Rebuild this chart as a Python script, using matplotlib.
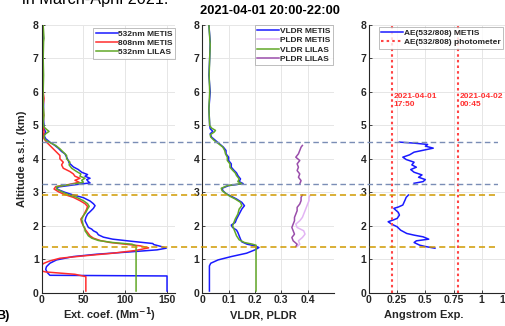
import numpy as np
import matplotlib
matplotlib.use("Agg")
import matplotlib.pyplot as plt

nan = np.nan

# ---- panel 1: extinction coefficient (Mm-1) vs altitude (km)
alt_ext_532 = [0.05, 0.5, 0.52, 0.6, 0.7, 0.78, 0.88, 0.98, 1.08, 1.15, 1.22, 1.28, 1.33, 1.38, 1.44,
               1.47, 1.53, 1.6, 1.66, 1.73, 1.8, 1.85, 1.9, 1.95, 2.05, 2.15, 2.25, 2.35, 2.42, 2.52,
               2.6, 2.66, 2.74, 2.84, 2.92, 3.0, 3.06, 3.11, 3.16, 3.22, 3.28, 3.32, 3.38, 3.42, 3.48,
               3.53, 3.6, 3.68, 3.76, 3.88, 3.95, 4.05, 4.15, 4.22, 4.32, 4.4, 4.5, 4.6, 4.7, 4.8,
               4.9, 5.0, 5.3, 5.6, 6.0, 6.4, 6.8, 7.2, 7.6, 8.0]
ext_532_metis = [150, 150, 10, 7, 5, 6, 10, 18, 38, 66, 106, 138, 149, 143, 134,
                 133, 110, 85, 74, 68, 66, 62, 60, 56, 54, 52, 53, 55, 58, 62,
                 64, 62, 58, 50, 38, 28, 22, 18, 20, 38, 58, 56, 54, 58, 52,
                 55, 48, 44, 38, 33, 32, 30, 28, 24, 20, 16, 10, 5, 3, 5,
                 3, 3, 2, 2.5, 2, 1.5, 2, 1.5, 2, 1.5]

alt_ext_808 = [0.05, 0.48, 0.55, 0.62, 0.65, 0.83, 0.88, 0.95, 1.03, 1.1, 1.18, 1.26, 1.34, 1.4, 1.45,
               1.5, 1.56, 1.63, 1.7, 1.8, 1.9, 2.0, 2.1, 2.2, 2.3, 2.4, 2.5, 2.58, 2.66, 2.75,
               2.85, 2.93, 3.02, 3.1, 3.17, 3.23, 3.3, 3.36, 3.42, 3.48, 3.55, 3.62, 3.72, 3.82, 3.9,
               4.0, 4.1, 4.2, 4.3, 4.4, 4.5, 4.6, 4.7, 4.8, 5.0, 5.3, 5.6, 5.8, 6.0]
ext_808_metis = [53, 53, 40, 5, 0, 0, 3, 10, 22, 50, 85, 112, 128, 118, 100,
                 82, 70, 62, 58, 55, 52, 50, 48, 47, 50, 52, 54, 55, 52, 46,
                 38, 28, 20, 15, 17, 32, 45, 40, 46, 40, 38, 34, 26, 24, 26,
                 22, 22, 18, 14, 10, 6, 3, 2, 3, 2, 2.5, 2, 3, 2]

alt_ext_lilas = [0.05, 1.4, 1.45, 1.5, 1.56, 1.63, 1.7, 1.78, 1.85, 1.92, 2.0, 2.1, 2.2, 2.3, 2.4,
                 2.5, 2.58, 2.66, 2.75, 2.85, 2.93, 3.02, 3.1, 3.17, 3.23, 3.3, 3.36, 3.42, 3.48, 3.55,
                 3.62, 3.72, 3.82, 3.9, 4.0, 4.1, 4.2, 4.3, 4.4, 4.5, 4.58, 4.68, 4.75, 4.82, 4.88,
                 4.95, 5.1, 5.3, 5.6, 6.0, 6.5, 7.0, 7.5, 7.6, 8.0]
ext_532_lilas = [113, 113, 108, 85, 68, 60, 56, 54, 52, 52, 50, 49, 48, 50, 53,
                 55, 57, 55, 50, 42, 32, 24, 18, 18, 34, 50, 48, 52, 46, 47,
                 42, 36, 33, 34, 30, 30, 26, 22, 17, 9, 4, 3, 5, 9, 6,
                 3, 2, 3, 2, 2, 2.5, 2, 2.5, 3, 2]

# ---- panel 2: depolarization ratios
alt_vldr_metis = [0.05, 0.8, 0.88, 0.98, 1.08, 1.18, 1.28, 1.35, 1.4, 1.45, 1.52, 1.6, 1.7, 1.8, 1.87,
                  1.95, 2.02, 2.1, 2.2, 2.35, 2.5, 2.6, 2.7, 2.8, 2.88, 2.96, 3.05, 3.12, 3.2, 3.26,
                  3.32, 3.4, 3.5, 3.58, 3.66, 3.75, 3.85, 3.95, 4.05, 4.15, 4.25, 4.35, 4.45, 4.55, 4.65,
                  4.75, 4.82, 4.9, 5.0, 5.5, 6.0, 6.5, 7.0, 7.5, 8.0]
vldr_metis = [0.027, 0.027, 0.032, 0.06, 0.11, 0.168, 0.2, 0.215, 0.2, 0.17, 0.15, 0.145, 0.14, 0.135, 0.13,
              0.115, 0.11, 0.125, 0.13, 0.14, 0.15, 0.16, 0.15, 0.13, 0.11, 0.09, 0.078, 0.075, 0.1, 0.155,
              0.14, 0.145, 0.135, 0.13, 0.12, 0.11, 0.11, 0.1, 0.1, 0.09, 0.09, 0.08, 0.065, 0.05, 0.035,
              0.03, 0.04, 0.03, 0.028, 0.025, 0.03, 0.025, 0.028, 0.03, 0.025]

alt_vldr_lilas = [0.05, 1.42, 1.45, 1.5, 1.58, 1.7, 1.8, 1.9, 2.0, 2.1, 2.2, 2.35, 2.5, 2.6, 2.7,
                  2.8, 2.88, 2.96, 3.05, 3.12, 3.2, 3.26, 3.32, 3.4, 3.5, 3.58, 3.66, 3.75, 3.85, 3.95,
                  4.05, 4.15, 4.25, 4.35, 4.45, 4.55, 4.65, 4.72, 4.8, 4.85, 4.92, 5.0, 5.5, 6.0, 6.5,
                  7.0, 7.4, 8.0]
vldr_lilas = [0.204, 0.204, 0.19, 0.16, 0.14, 0.13, 0.125, 0.12, 0.115, 0.12, 0.125, 0.135, 0.14, 0.15, 0.145,
              0.125, 0.105, 0.09, 0.075, 0.072, 0.095, 0.15, 0.135, 0.14, 0.13, 0.125, 0.115, 0.105, 0.105, 0.095,
              0.095, 0.088, 0.085, 0.078, 0.062, 0.045, 0.032, 0.03, 0.045, 0.05, 0.035, 0.028, 0.025, 0.028, 0.026,
              0.028, 0.03, 0.025]

alt_pldr_metis = [1.38, 1.45, 1.55, 1.65, 1.75, 1.85, 1.95, 2.05, 2.15, 2.25, 2.35, 2.45, 2.55, 2.65, 2.75,
                  2.85, 2.92]
pldr_metis = [0.36, 0.37, 0.365, 0.38, 0.39, 0.385, 0.36, 0.355, 0.37, 0.38, 0.385, 0.39, 0.395, 0.4, 0.405,
              0.405, 0.41]

alt_pldr_lilas = [1.38, 1.45, 1.55, 1.65, 1.75, 1.85, 1.95, 2.05, 2.15, 2.25, 2.35, 2.45, 2.55, 2.65, 2.75,
                  2.85, 2.92, nan, 3.25, 3.35, 3.45, 3.55, 3.65, 3.75, 3.85, 3.95, 4.05, 4.15, 4.25, 4.35,
                  4.4]
pldr_lilas = [0.355, 0.36, 0.345, 0.34, 0.35, 0.345, 0.34, 0.345, 0.35, 0.35, 0.355, 0.36, 0.36, 0.37, 0.375,
              0.375, 0.38, nan, 0.37, 0.375, 0.365, 0.37, 0.36, 0.365, 0.36, 0.37, 0.355, 0.365, 0.37, 0.375,
              0.38]

# ---- panel 3: Angstrom exponent
alt_ae = [1.33, 1.38, 1.42, 1.5, 1.55, 1.6, 1.67, 1.72, 1.77, 1.87, 1.97, 2.05, 2.12, 2.18, 2.22,
          2.32, 2.4, 2.52, 2.56, 2.62, 2.77, 2.85, 2.92, nan, 3.27, 3.32, 3.38, 3.45, 3.52, 3.6,
          3.68, 3.75, 3.82, 3.9, 3.98, 4.05, 4.12, 4.2, 4.27, 4.32, 4.38, 4.43, 4.47, 4.5]
ae_metis = [0.585, 0.5, 0.45, 0.4, 0.42, 0.53, 0.48, 0.4, 0.335, 0.28, 0.25, 0.2, 0.17, 0.22, 0.25,
            0.27, 0.26, 0.22, 0.26, 0.3, 0.32, 0.33, 0.35, nan, 0.4, 0.48, 0.5, 0.44, 0.47, 0.4,
            0.37, 0.42, 0.38, 0.4, 0.33, 0.3, 0.36, 0.4, 0.5, 0.57, 0.5, 0.52, 0.4, 0.27]
ae_photometer = [0.2, 0.79]
ae_photometer_times = ["2021-04-01\n17:50", "2021-04-02\n00:45"]

# layer boundaries (km)
layer_tops = [4.5, 3.25]
layer_bottoms = [2.92, 1.38]

W, H = 505, 326
fig = plt.figure(figsize=(W / 100, H / 100), dpi=100)
plt.rcParams['font.family'] = ['Liberation Sans', 'DejaVu Sans']

bot, top = 292.7, 25.0


def px_axes(x0, x1):
    return fig.add_axes([x0 / W, 1 - bot / H, (x1 - x0) / W, (bot - top) / H])


ax1 = px_axes(41.5, 175.4)
ax2 = px_axes(202.3, 334.0)
ax3 = px_axes(369.0, 509.9)

dark = '#262626'
for ax in (ax1, ax2, ax3):
    ax.set_ylim(0, 8)
    ax.set_yticks(range(0, 9))
    for s in ('top', 'right'):
        ax.spines[s].set_visible(False)
    for s in ('left', 'bottom'):
        ax.spines[s].set_color(dark)
        ax.spines[s].set_linewidth(0.8)
    ax.grid(True, color='#e6e6e6', lw=0.7)
    ax.set_axisbelow(True)
    ax.tick_params(direction='in', length=2.5, width=0.6, colors=dark, labelsize=7.5, pad=2)
    for lab in ax.get_xticklabels() + ax.get_yticklabels():
        lab.set_fontweight('bold')

lw = 1.1
ax1.plot(ext_532_metis, alt_ext_532, color='#1a1aff', lw=lw, label='532nm METIS')
ax1.plot(ext_808_metis, alt_ext_808, color='#ff2d2d', lw=lw, label='808nm METIS')
ax1.plot(ext_532_lilas, alt_ext_lilas, color='#62a828', lw=lw, label='532nm LILAS')
ax1.set_xlim(0, 160)
ax1.set_xticks([0, 50, 100, 150])
ax1.set_xticklabels(['0', '50', '100', '150'], fontweight='bold')
ax1.set_ylabel('Altitude a.s.l. (km)', fontsize=8, fontweight='bold', color=dark, labelpad=4)

ax2.plot(vldr_metis, alt_vldr_metis, color='#1a1aff', lw=lw, label='VLDR METIS')
ax2.plot(pldr_metis, alt_pldr_metis, color='#e2b4f4', lw=lw, label='PLDR METIS')
ax2.plot(vldr_lilas, alt_vldr_lilas, color='#62a828', lw=lw, label='VLDR LILAS')
ax2.plot(pldr_lilas, alt_pldr_lilas, color='#9a4eab', lw=lw, label='PLDR LILAS')
ax2.set_xlim(0, 0.5)
ax2.set_xticks([0, 0.1, 0.2, 0.3, 0.4])
ax2.set_xticklabels(['0', '0.1', '0.2', '0.3', '0.4'], fontweight='bold')

ax3.plot(ae_metis, alt_ae, color='#1a1aff', lw=lw, label='AE(532/808) METIS')
for i, (x, t) in enumerate(zip(ae_photometer, ae_photometer_times)):
    ax3.plot([x, x], [0, 8], color='#ff4545', lw=1.5, ls=(0, (1.2, 1.5)),
             label='AE(532/808) photometer' if i == 0 else None)
    ax3.text(x + 0.015, 5.98, t, color='#ff3030', fontsize=6, fontweight='bold',
             va='top', ha='left', linespacing=1.35)
ax3.set_xlim(0, 1.25)
ax3.set_xticks([0, 0.25, 0.5, 0.75, 1, 1.25])
ax3.set_xticklabels(['0', '0.25', '0.5', '0.75', '1', '1.25'], fontweight='bold')

# x labels placed at the same height below each panel (centres in pixels)
for xc, lab in ((109, 'Ext. coef. (Mm$^{\\mathbf{-1}}$)'),
                (263, 'VLDR, PLDR'),
                (424, 'Angstrom Exp.')):
    fig.text(xc / W, 1 - 315 / H, lab, ha='center', va='center',
             fontsize=8, fontweight='bold', color=dark)

leg_kw = dict(frameon=True, fancybox=False, borderpad=0.3, labelspacing=0.15,
              handlelength=2.6, handletextpad=0.1, borderaxespad=0, prop={'weight': 'bold', 'size': 6})
for ax, anchor in ((ax1, (1.0, 0.99)), (ax2, (0.99, 1.0)), (ax3, (0.95, 0.993))):
    leg = ax.legend(loc='upper right', bbox_to_anchor=anchor, **leg_kw)
    leg.get_frame().set_edgecolor('#a0a0a0')
    leg.get_frame().set_linewidth(0.6)
    for t in leg.get_texts():
        t.set_color(dark)

# layer boundaries drawn across all three panels
ov = px_axes(41.5, 498.0)
ov.set_ylim(0, 8)
ov.set_xlim(0, 1)
ov.axis('off')
ov.patch.set_alpha(0)
for y in layer_tops:
    ov.axhline(y, color='#7a8db5', lw=1.0, ls=(0, (4, 2.5)))
for y in layer_bottoms:
    ov.axhline(y, color='#d09a00', lw=1.1, ls=(0, (4, 2.5)))

fig.text(270 / W, 1 - 11 / H, '2021-04-01 20:00-22:00', ha='center', va='center',
         fontsize=9.3, fontweight='bold')
fig.text(22 / W, 1 - 4 / H, 'in March-April 2021.', ha='left', va='baseline', fontsize=11.7)
fig.text(-4 / W, 1 - 316 / H, 'B)', ha='left', va='center', fontsize=9, fontweight='bold')

fig.savefig('out.png', dpi=100)
